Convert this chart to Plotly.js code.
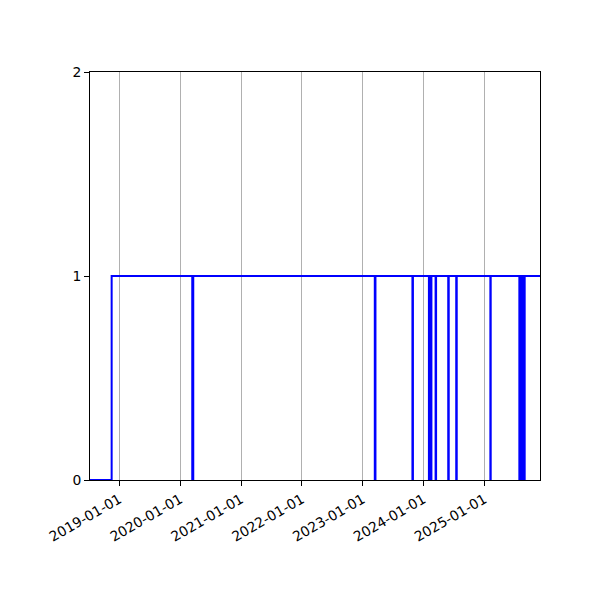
<!DOCTYPE html>
<html>
<head>
<meta charset="utf-8">
<script src="https://cdn.plot.ly/plotly-3.0.1.min.js"></script>
<style>
    body { margin: 0; background: #fff; }
    #graph { width: 600px; height: 600px; }
</style>
</head>
<body>
<div id="graph"></div>
<script>
/* ----- Data ------- */
// Dates where the state changes, and the state from that date on (step plot)
var stateDates = [
    '2018-07-09', '2018-11-16',
    '2020-03-14', '2020-03-20',
    '2023-03-15', '2023-03-19',
    '2023-10-27', '2023-10-30',
    '2024-02-03', '2024-02-06',
    '2024-02-15', '2024-02-18',
    '2024-03-14', '2024-03-17',
    '2024-05-29', '2024-06-01',
    '2024-07-16', '2024-07-19',
    '2025-02-06', '2025-02-08',
    '2025-07-30', '2025-08-02',
    '2025-08-06', '2025-08-09',
    '2025-08-13', '2025-08-16',
    '2025-08-20', '2025-08-23',
    '2025-08-27', '2025-08-31',
    '2025-12-01'
];
var stateValues = [
    0, 1,
    0, 1,
    0, 1,
    0, 1,
    0, 1,
    0, 1,
    0, 1,
    0, 1,
    0, 1,
    0, 1,
    0, 1,
    0, 1,
    0, 1,
    0, 1,
    0, 1,
    1
];
var yTicks = [0, 1, 2];
var xRange = ['2018-07-09', '2025-12-01'];

/* ----- Graph Setup ------- */
var trace0 = {
    x: stateDates,
    y: stateValues,
    mode: 'lines',
    line: {
        shape: 'hv',
        width: 2,
        color: 'rgb(0, 0, 255)'
    },
    showlegend: false
};

var tickFont = {
    family: 'DejaVu Sans, sans-serif',
    size: 13.9,
    color: '#000'
};

var layout = {
    width: 600,
    height: 600,
    paper_bgcolor: '#fff',
    plot_bgcolor: '#fff',
    showlegend: false,
    margin: {
        l: 90,
        r: 60,
        t: 72,
        b: 120
    },
    xaxis: {
        type: 'date',
        range: xRange,
        autorange: false,
        tick0: '2019-01-01',
        dtick: 'M12',
        tickformat: '%Y-%m-%d',
        tickangle: -30,
        ticks: 'outside',
        ticklen: 5,
        tickwidth: 1,
        tickcolor: '#000',
        showgrid: true,
        gridcolor: '#b0b0b0',
        gridwidth: 1,
        showline: true,
        linecolor: '#000',
        linewidth: 1,
        mirror: true,
        zeroline: false,
        tickfont: tickFont
    },
    yaxis: {
        range: [0, 2],
        autorange: false,
        tickvals: yTicks,
        ticktext: yTicks.map(String),
        ticks: 'outside',
        ticklen: 5,
        tickwidth: 1,
        tickcolor: '#000',
        showgrid: false,
        showline: true,
        linecolor: '#000',
        linewidth: 1,
        mirror: true,
        zeroline: false,
        tickfont: tickFont
    }
};

var graph = document.getElementById('graph');
Plotly.newPlot(graph, [trace0], layout, {staticPlot: true});
</script>
</body>
</html>
